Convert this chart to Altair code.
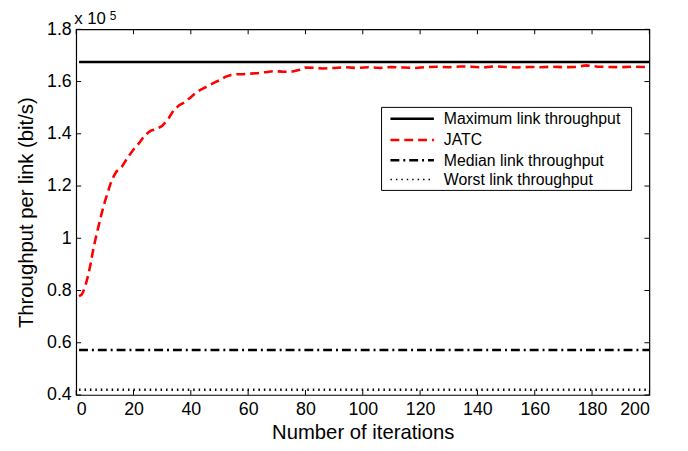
import altair as alt
import pandas as pd

# ---------------- data ----------------
jatc_iter = [1, 2, 3, 4, 5, 6, 7, 8, 9, 10, 11, 12, 13, 14, 16, 18, 20, 22, 24, 26,
             28, 30, 32, 34, 36, 38, 40, 42, 44, 46, 48, 50, 52, 54, 56, 58, 60, 63,
             66, 69, 72, 75, 78, 80, 83, 86, 90, 94, 98, 102, 106, 110, 114, 118,
             122, 126, 130, 134, 138, 142, 146, 150, 154, 158, 162, 166, 170, 174,
             178, 182, 186, 190, 194, 198, 200]
jatc_val = [0.778, 0.785, 0.81, 0.85, 0.90, 0.96, 1.01, 1.055, 1.10, 1.14, 1.175,
            1.21, 1.235, 1.255, 1.275, 1.31, 1.34, 1.365, 1.395, 1.412, 1.418, 1.43,
            1.455, 1.49, 1.51, 1.522, 1.54, 1.56, 1.572, 1.583, 1.595, 1.605, 1.618,
            1.625, 1.628, 1.628, 1.630, 1.632, 1.636, 1.640, 1.638, 1.637, 1.645,
            1.654, 1.653, 1.650, 1.652, 1.655, 1.652, 1.655, 1.652, 1.656, 1.654,
            1.652, 1.655, 1.657, 1.655, 1.658, 1.657, 1.654, 1.658, 1.656, 1.654,
            1.656, 1.655, 1.657, 1.655, 1.656, 1.662, 1.657, 1.656, 1.655, 1.657,
            1.656, 1.656]

flat_iter = [1, 200]
max_level = 1.675
median_level = 0.572
worst_level = 0.42

series_names = ["Maximum link throughput", "JATC",
                "Median link throughput", "Worst link throughput"]
series_colors = ["#000000", "#ff0000", "#000000", "#000000"]
series_dashes = [[1, 0], [9, 5], [9, 4, 2, 4], [1.5, 4]]
series_widths = [2.6, 2.6, 2.4, 1.4]

x_ticks = [0, 20, 40, 60, 80, 100, 120, 140, 160, 180, 200]
y_ticks = [0.4, 0.6, 0.8, 1.0, 1.2, 1.4, 1.6, 1.8]
x_domain = [0, 200]
y_domain = [0.4, 1.8]

# ---------------- tables ----------------
rows = []
for i, v in zip(jatc_iter, jatc_val):
    rows.append({"iter": i, "val": v, "series": "JATC"})
for name, lvl in [("Maximum link throughput", max_level),
                  ("Median link throughput", median_level),
                  ("Worst link throughput", worst_level)]:
    for i in flat_iter:
        rows.append({"iter": i, "val": lvl, "series": name})
df = pd.DataFrame(rows)

xt = pd.DataFrame({"t": x_ticks})
yt = pd.DataFrame({"t": y_ticks})
one = pd.DataFrame({"a": [0]})

FONT = "Liberation Sans"

xscale = alt.Scale(domain=x_domain, nice=False, zero=False)
yscale = alt.Scale(domain=y_domain, nice=False, zero=False)

lines = alt.Chart(df).mark_line(clip=True).encode(
    x=alt.X("iter:Q", scale=xscale,
            axis=alt.Axis(values=x_ticks, title="Number of iterations",
                          ticks=False, domain=False, grid=False,
                          labelFontSize=18, labelPadding=6,
                          titleFontSize=20.5, titlePadding=4)),
    y=alt.Y("val:Q", scale=yscale,
            axis=alt.Axis(values=y_ticks, title="Throughput per link (bit/s)",
                          ticks=False, domain=False, grid=False, format="~g",
                          labelFontSize=18, labelPadding=5,
                          titleFontSize=20.5, titlePadding=10)),
    color=alt.Color("series:N", legend=None,
                    scale=alt.Scale(domain=series_names, range=series_colors)),
    strokeDash=alt.StrokeDash("series:N", legend=None,
                              scale=alt.Scale(domain=series_names, range=series_dashes)),
    strokeWidth=alt.StrokeWidth("series:N", legend=None,
                                scale=alt.Scale(domain=series_names, range=series_widths)),
    order=alt.Order("iter:Q"),
)

tick_len = 5
left_ticks = alt.Chart(yt).mark_rule(color="black", strokeWidth=1, x2Offset=tick_len).encode(
    y=alt.Y("t:Q", scale=yscale), x=alt.datum(0, scale=xscale), x2=alt.datum(0))
right_ticks = alt.Chart(yt).mark_rule(color="black", strokeWidth=1, x2Offset=-tick_len).encode(
    y=alt.Y("t:Q", scale=yscale), x=alt.datum(200, scale=xscale), x2=alt.datum(200))
bottom_ticks = alt.Chart(xt).mark_rule(color="black", strokeWidth=1, y2Offset=-tick_len).encode(
    x=alt.X("t:Q", scale=xscale), y=alt.datum(0.4, scale=yscale), y2=alt.datum(0.4))
top_ticks = alt.Chart(xt).mark_rule(color="black", strokeWidth=1, y2Offset=tick_len).encode(
    x=alt.X("t:Q", scale=xscale), y=alt.datum(1.8, scale=yscale), y2=alt.datum(1.8))

exp_base = alt.Chart(one).mark_text(
    text="x 10", align="left", baseline="alphabetic", fontSize=17, font=FONT,
    color="black", dx=-2, dy=-5).encode(x=alt.datum(0, scale=xscale),
                                       y=alt.datum(1.8, scale=yscale))
exp_sup = alt.Chart(one).mark_text(
    text="5", align="left", baseline="alphabetic", fontSize=12, font=FONT,
    color="black", dx=34, dy=-9).encode(x=alt.datum(0, scale=xscale),
                                       y=alt.datum(1.8, scale=yscale))

# ---------------- manual legend (pixel placement inside plot area) ----------------
leg_left, leg_right, leg_top, leg_bottom = 309, 562, 79, 163
row_y = [90.5, 112, 132.5, 152]
sym_x0, sym_x1, lab_x = 318, 362, 372

legend_layers = [
    alt.Chart(one).mark_rect(fill="white", stroke="black", strokeWidth=1).encode(
        x=alt.value(leg_left), x2=alt.value(leg_right),
        y=alt.value(leg_top), y2=alt.value(leg_bottom))
]
for k, name in enumerate(series_names):
    legend_layers.append(
        alt.Chart(one).mark_rule(color=series_colors[k], strokeDash=series_dashes[k],
                                 strokeWidth=series_widths[k]).encode(
            x=alt.value(sym_x0), x2=alt.value(sym_x1), y=alt.value(row_y[k])))
    legend_layers.append(
        alt.Chart(one).mark_text(text=name, align="left", baseline="middle",
                                 fontSize=16, font=FONT, color="black").encode(
            x=alt.value(lab_x), y=alt.value(row_y[k] + 0.5)))

chart = alt.layer(lines, left_ticks, right_ticks, bottom_ticks, top_ticks,
                  exp_base, exp_sup, *legend_layers).properties(
    width=580, height=370,
    autosize=alt.AutoSizeParams(type="none"),
    padding={"left": 69, "top": 19, "right": 31, "bottom": 46},
    background="white",
).configure_view(
    stroke="black", strokeWidth=1.2
).configure_axis(
    labelFont=FONT, titleFont=FONT, labelColor="black", titleColor="black",
    titleFontWeight="normal"
)

chart.save("out.html", embed_options={"renderer": "svg", "actions": False})
